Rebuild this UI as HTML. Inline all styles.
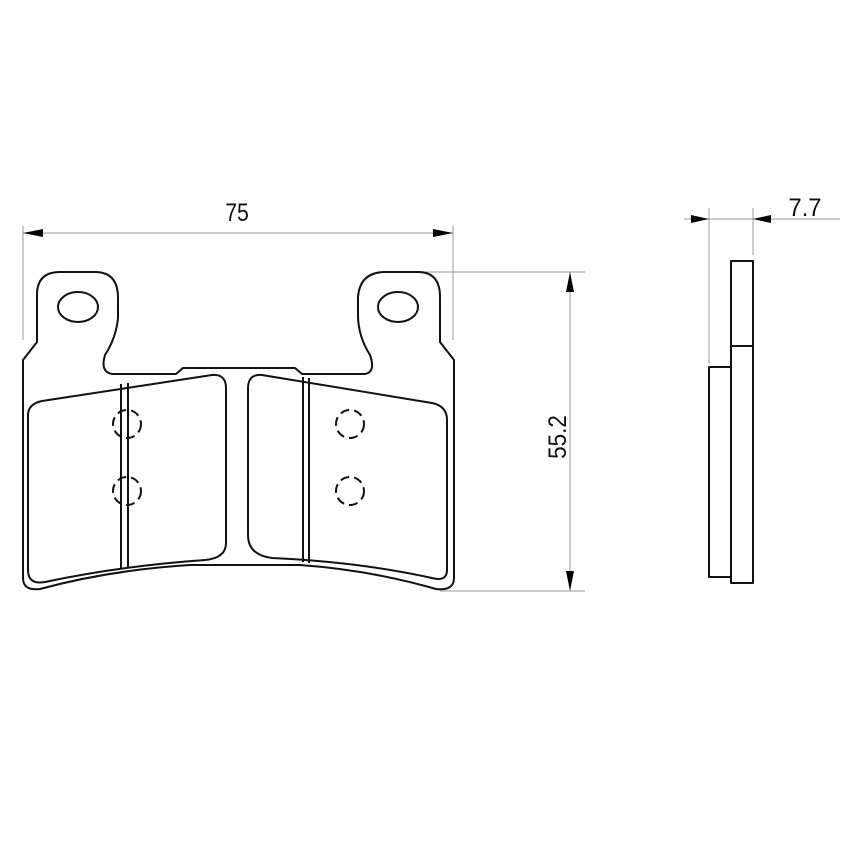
<!DOCTYPE html>
<html><head><style>html,body{margin:0;padding:0;background:#fff}</style></head>
<body>
<svg width="860" height="860" viewBox="0 0 860 860" xmlns="http://www.w3.org/2000/svg">
<g stroke="#999" stroke-width="1" fill="none">
  <line x1="23" y1="226" x2="23" y2="340"/>
  <line x1="453" y1="226" x2="453" y2="340"/>
  <line x1="23" y1="233" x2="453" y2="233"/>
  <line x1="425" y1="272" x2="585" y2="272"/>
  <line x1="440" y1="591" x2="585" y2="591"/>
  <line x1="570" y1="272" x2="570" y2="591"/>
  <line x1="709" y1="208" x2="709" y2="364"/>
  <line x1="753" y1="208" x2="753" y2="255"/>
  <line x1="684" y1="219" x2="840" y2="219"/>
</g>
<g fill="#000">
  <polygon points="23,233 43,229 43,237"/>
  <polygon points="453,233 433,229 433,237"/>
  <polygon points="570,272 566,292 574,292"/>
  <polygon points="570,591 566,571 574,571"/>
  <polygon points="709,219 691,215 691,223"/>
  <polygon points="753,219 771,215 771,223"/>
</g>
<g font-family="Liberation Sans, sans-serif" font-size="25" fill="#111">
  <text x="0" y="0" text-anchor="middle" transform="translate(237,221) scale(0.85,1)">75</text>
  <text x="0" y="0" text-anchor="middle" transform="translate(805,216) scale(0.95,1)">7.7</text>
  <text x="0" y="0" text-anchor="middle" transform="translate(566,437) rotate(-90) scale(0.9,1)">55.2</text>
</g>
<g stroke="#111" stroke-width="2" fill="none" stroke-linejoin="round">
  <path d="M23 360 L37 342 L37 295 Q37 272 60 272 L95 272 Q118 272 118 298 L118 318 Q116 338 105 355 Q100 372 112 374 L176 374 L183 368 L295 368 L302 374 L365 374 Q376 372 370 355 Q358 336 358 315 L358 297 Q360 272 385 272 L418 272 Q440 272 440 297 L440 342 L454 360 L454 578 Q454 591 436 589 Q370 570 300 565 L190 565 Q110 570 40 589 Q23 591 23 578 Z"/>
  <ellipse cx="78" cy="307" rx="20" ry="15"/>
  <ellipse cx="398" cy="307" rx="20" ry="15"/>
  <path d="M28 415 Q28 404 42 401 L212 375 Q226 374 226 388 L226 543 Q226 558 205 560 Q120 566 45 582 Q28 585 28 570 Z"/>
  <path d="M121 384 L121 568 M128 383 L128 567"/>
  <path d="M248 388 Q248 374 262 375 L432 403 Q447 406 447 420 L447 570 Q447 582 432 578 Q360 562 272 558 Q248 555 248 535 Z"/>
  <path d="M303 377 L303 562 M309 378 L309 563"/>
  <rect x="731" y="261" width="22" height="322"/>
  <line x1="731" y1="346" x2="753" y2="346"/>
  <rect x="709" y="367" width="22" height="210"/>
</g>
<g stroke="#111" stroke-width="2" fill="none" stroke-dasharray="9,5">
  <circle cx="127" cy="424" r="14"/>
  <circle cx="127" cy="491" r="14"/>
  <circle cx="350" cy="424" r="14"/>
  <circle cx="350" cy="491" r="14"/>
</g>
</svg>
</body></html>
